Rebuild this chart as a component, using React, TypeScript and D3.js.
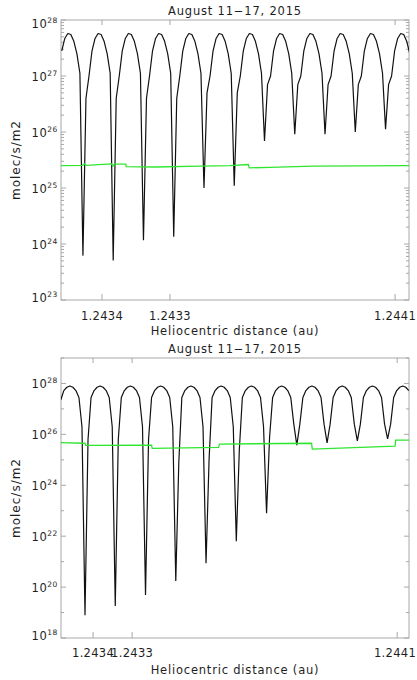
import React from "react";
import * as d3 from "d3";

// ---------- text ----------
const titleText = "August 11\u221217, 2015";
const xLabelText = "Heliocentric distance (au)";
const yLabelText = "molec/s/m2";

// ---------- x axis (time index of the samples) ----------
const timeDomain = [0, 115];
const topTickT = [13.55, 36.0, 110.4];
const bottomTickT = [10.6, 23.5, 111.1];
const tickLabels = ["1.2434", "1.2433", "1.2441"];

// ---------- top panel ----------
const topYDomain = [1e23, 1e28];
const topLabelExps = [23, 24, 25, 26, 27, 28];
const topOffset = 0.25; // time index of first sample
const topFlux = [
  2.82e27, 4.68e27, 5.75e27, 5.5e27, 4.17e27, 2.51e27, 1.12e27,
  6.2e23, 4.0e26, 1.0e27, 2.82e27, 4.68e27, 5.75e27, 5.5e27, 4.17e27, 2.51e27, 1.12e27,
  5.1e23, 4.0e26, 1.0e27, 2.82e27, 4.68e27, 5.75e27, 5.5e27, 4.17e27, 2.51e27, 1.12e27,
  1.17e24, 4.0e26, 1.0e27, 2.82e27, 4.68e27, 5.75e27, 5.5e27, 4.17e27, 2.51e27, 1.12e27,
  1.35e24, 4.0e26, 1.0e27, 2.82e27, 4.68e27, 5.75e27, 5.5e27, 4.17e27, 2.51e27, 1.12e27,
  1.0e25, 5.0e26, 1.0e27, 2.82e27, 4.68e27, 5.75e27, 5.5e27, 4.17e27, 2.51e27, 1.12e27,
  1.1e25, 5.0e26, 1.0e27, 2.82e27, 4.68e27, 5.75e27, 5.5e27, 4.17e27, 2.51e27, 1.12e27,
  6.9e25, 7.0e26, 1.0e27, 2.82e27, 4.68e27, 5.75e27, 5.5e27, 4.17e27, 2.51e27, 1.12e27,
  9.1e25, 7.0e26, 1.0e27, 2.82e27, 4.68e27, 5.75e27, 5.5e27, 4.17e27, 2.51e27, 1.12e27,
  9.1e25, 7.0e26, 1.0e27, 2.82e27, 4.68e27, 5.75e27, 5.5e27, 4.17e27, 2.51e27, 1.12e27,
  1.0e26, 7.0e26, 1.0e27, 2.82e27, 4.68e27, 5.75e27, 5.5e27, 4.17e27, 2.51e27, 1.12e27,
  1.12e26, 7.0e26, 1.0e27, 2.82e27, 4.68e27, 5.75e27, 5.5e27, 4.17e27, 2.51e27,
];
const topGreenT = [0, 7.1, 7.7, 8.26, 16.75, 17.1, 17.6, 21.4, 21.55, 31.06, 45.9, 55.85, 61.9, 62.2, 69.07, 83.3, 115];
const topGreenV = [2.5e25, 2.54e25, 2.69e25, 2.54e25, 2.69e25, 2.45e25, 2.66e25, 2.66e25, 2.4e25, 2.37e25, 2.45e25, 2.51e25, 2.63e25, 2.29e25, 2.34e25, 2.45e25, 2.51e25];

// ---------- bottom panel ----------
const bottomYDomain = [1e18, 1e29];
const bottomLabelExps = [18, 20, 22, 24, 26, 28];
const bottomOffset = -0.07;
const bottomFlux = [
  2.24e27, 5.25e27, 7.08e27, 7.94e27, 7.08e27, 5.25e27, 2.82e27, 2.0e26,
  7.9e18, 6.3e25, 2.82e27, 5.25e27, 7.08e27, 7.94e27, 7.08e27, 5.25e27, 2.82e27, 2.0e26,
  1.8e19, 6.3e25, 2.82e27, 5.25e27, 7.08e27, 7.94e27, 7.08e27, 5.25e27, 2.82e27, 2.0e26,
  4.9e19, 6.3e25, 2.82e27, 5.25e27, 7.08e27, 7.94e27, 7.08e27, 5.25e27, 2.82e27, 2.0e26,
  1.74e20, 7.9e24, 2.82e27, 5.25e27, 7.08e27, 7.94e27, 7.08e27, 5.25e27, 2.82e27, 2.0e26,
  8.7e20, 1.0e25, 2.82e27, 5.25e27, 7.08e27, 7.94e27, 7.08e27, 5.25e27, 2.82e27, 2.0e26,
  6.3e21, 2.5e25, 2.82e27, 5.25e27, 7.08e27, 7.94e27, 7.08e27, 5.25e27, 2.82e27, 2.0e26,
  7.9e22, 7.9e25, 2.82e27, 5.25e27, 7.08e27, 7.94e27, 7.08e27, 5.25e27, 2.82e27, 2.51e26,
  3.8e25, 2.51e26, 2.82e27, 5.25e27, 7.08e27, 7.94e27, 7.08e27, 5.25e27, 2.82e27, 2.51e26,
  4.6e25, 2.51e26, 2.82e27, 5.25e27, 7.08e27, 7.94e27, 7.08e27, 5.25e27, 2.82e27, 2.51e26,
  5.5e25, 2.51e26, 2.82e27, 5.25e27, 7.08e27, 7.94e27, 7.08e27, 5.25e27, 2.82e27, 2.51e26,
  6.6e25, 2.51e26, 2.82e27, 5.25e27, 7.08e27, 7.94e27, 7.08e27, 5.25e27,
];
const bottomGreenT = [0, 7.37, 7.93, 8.16, 29.9, 30.14, 52.05, 52.38, 82.78, 83.05, 110.38, 110.6, 115];
const bottomGreenV = [4.7e25, 4.47e25, 4.47e25, 3.72e25, 3.8e25, 2.82e25, 3.09e25, 4.17e25, 4.47e25, 2.63e25, 3.47e25, 5.89e25, 5.89e25];

// ---------- layout ----------
const W = 417;
const H = 680;
const X0 = 61;
const X1 = 409;
const FONT = "DejaVu Sans, sans-serif";
const TEXT = "#1e1e1e";
const AXIS = "#a8a8a8";
const TICK_LABEL_HALF = 21;

type PanelProps = {
  id: string;
  y0: number;
  y1: number;
  yDomain: number[];
  labelExps: number[];
  minorEveryDecade: boolean;
  flux: number[];
  offset: number;
  greenT: number[];
  greenV: number[];
  tickT: number[];
  titleY: number;
  tickLabelY: number;
  xLabelY: number;
};

function Panel(p: PanelProps) {
  const x = d3.scaleLinear().domain(timeDomain).range([X0, X1]);
  const y = d3.scaleLog().domain(p.yDomain).range([p.y1, p.y0]);
  const line = d3
    .line<[number, number]>()
    .x((d) => x(d[0]))
    .y((d) => y(d[1]));
  const blackPts: [number, number][] = p.flux.map((v, i) => [i + p.offset, v]);
  const greenPts: [number, number][] = p.greenT.map((t, i) => [t, p.greenV[i]]);

  const lo = Math.round(Math.log10(p.yDomain[0]));
  const hi = Math.round(Math.log10(p.yDomain[1]));
  const major: number[] = [];
  const minor: number[] = [];
  for (let e = lo; e <= hi; e++) {
    if (p.labelExps.includes(e)) major.push(Math.pow(10, e));
    else minor.push(Math.pow(10, e));
    if (!p.minorEveryDecade && e < hi) {
      for (let m = 2; m <= 9; m++) minor.push(m * Math.pow(10, e));
    }
  }
  const midX = (X0 + X1) / 2;

  return (
    <g>
      <defs>
        <clipPath id={p.id}>
          <rect x={X0} y={p.y0} width={X1 - X0} height={p.y1 - p.y0} />
        </clipPath>
      </defs>
      <text x={midX} y={p.titleY} textAnchor="middle" fontFamily={FONT} fontSize={11.5} letterSpacing={0.8} fill={TEXT}>
        {titleText}
      </text>
      {/* frame */}
      <rect x={X0} y={p.y0} width={X1 - X0} height={p.y1 - p.y0} fill="none" stroke={AXIS} strokeWidth={1} />
      {/* y ticks */}
      {major.map((v, i) => (
        <g key={"M" + i}>
          <line x1={X0} x2={X0 + 5} y1={y(v)} y2={y(v)} stroke={AXIS} />
          <line x1={X1} x2={X1 - 5} y1={y(v)} y2={y(v)} stroke={AXIS} />
        </g>
      ))}
      {minor.map((v, i) => (
        <g key={"m" + i}>
          <line x1={X0} x2={X0 + 3} y1={y(v)} y2={y(v)} stroke={AXIS} />
          <line x1={X1} x2={X1 - 3} y1={y(v)} y2={y(v)} stroke={AXIS} />
        </g>
      ))}
      {p.labelExps.map((e, i) => {
        const ty = y(Math.pow(10, e));
        let dy = 4.5;
        if (i === 0) dy = 1.5;
        if (ty - p.y0 < 3) dy = 8;
        return (
          <text key={"yl" + e} x={57.5} y={ty + dy} textAnchor="end" fontFamily={FONT} fontSize={11.5} letterSpacing={0.6} fill={TEXT}>
            <tspan>10</tspan>
            <tspan dy={-5} fontSize={7.5} letterSpacing={0.3}>{String(e)}</tspan>
          </text>
        );
      })}
      {/* x ticks */}
      {p.tickT.map((t, i) => {
        const cx = Math.min(x(t), W - 1 - TICK_LABEL_HALF);
        return (
          <g key={"xt" + i}>
            <line x1={x(t)} x2={x(t)} y1={p.y1} y2={p.y1 - 6} stroke={AXIS} />
            <line x1={x(t)} x2={x(t)} y1={p.y0} y2={p.y0 + 5} stroke={AXIS} />
            <text x={cx} y={p.tickLabelY} textAnchor="middle" fontFamily={FONT} fontSize={11.5} letterSpacing={0.3} fill={TEXT}>
              {tickLabels[i]}
            </text>
          </g>
        );
      })}
      <text x={midX} y={p.xLabelY} textAnchor="middle" fontFamily={FONT} fontSize={11.5} letterSpacing={0.8} fill={TEXT}>
        {xLabelText}
      </text>
      <text
        transform={`translate(20,${(p.y0 + p.y1) / 2}) rotate(-90)`}
        textAnchor="middle"
        fontFamily={FONT}
        fontSize={12}
        letterSpacing={1}
        fill={TEXT}
      >
        {yLabelText}
      </text>
      {/* data */}
      <g clipPath={`url(#${p.id})`}>
        <path d={line(blackPts) || ""} fill="none" stroke="#111" strokeWidth={1.2} strokeLinejoin="bevel" />
        <path d={line(greenPts) || ""} fill="none" stroke="#2fe62f" strokeWidth={1.3} />
      </g>
    </g>
  );
}

export default function App() {
  return (
    <svg width={W} height={H} style={{ position: "absolute", left: 0, top: 0, background: "#fff" }}>
      <rect x={0} y={0} width={W} height={H} fill="#fff" />
      <Panel
        id="clipTop"
        y0={20}
        y1={300}
        yDomain={topYDomain}
        labelExps={topLabelExps}
        minorEveryDecade={false}
        flux={topFlux}
        offset={topOffset}
        greenT={topGreenT}
        greenV={topGreenV}
        tickT={topTickT}
        titleY={15}
        tickLabelY={320}
        xLabelY={334.5}
      />
      <Panel
        id="clipBottom"
        y0={358}
        y1={638}
        yDomain={bottomYDomain}
        labelExps={bottomLabelExps}
        minorEveryDecade={true}
        flux={bottomFlux}
        offset={bottomOffset}
        greenT={bottomGreenT}
        greenV={bottomGreenV}
        tickT={bottomTickT}
        titleY={353}
        tickLabelY={657}
        xLabelY={674}
      />
    </svg>
  );
}
